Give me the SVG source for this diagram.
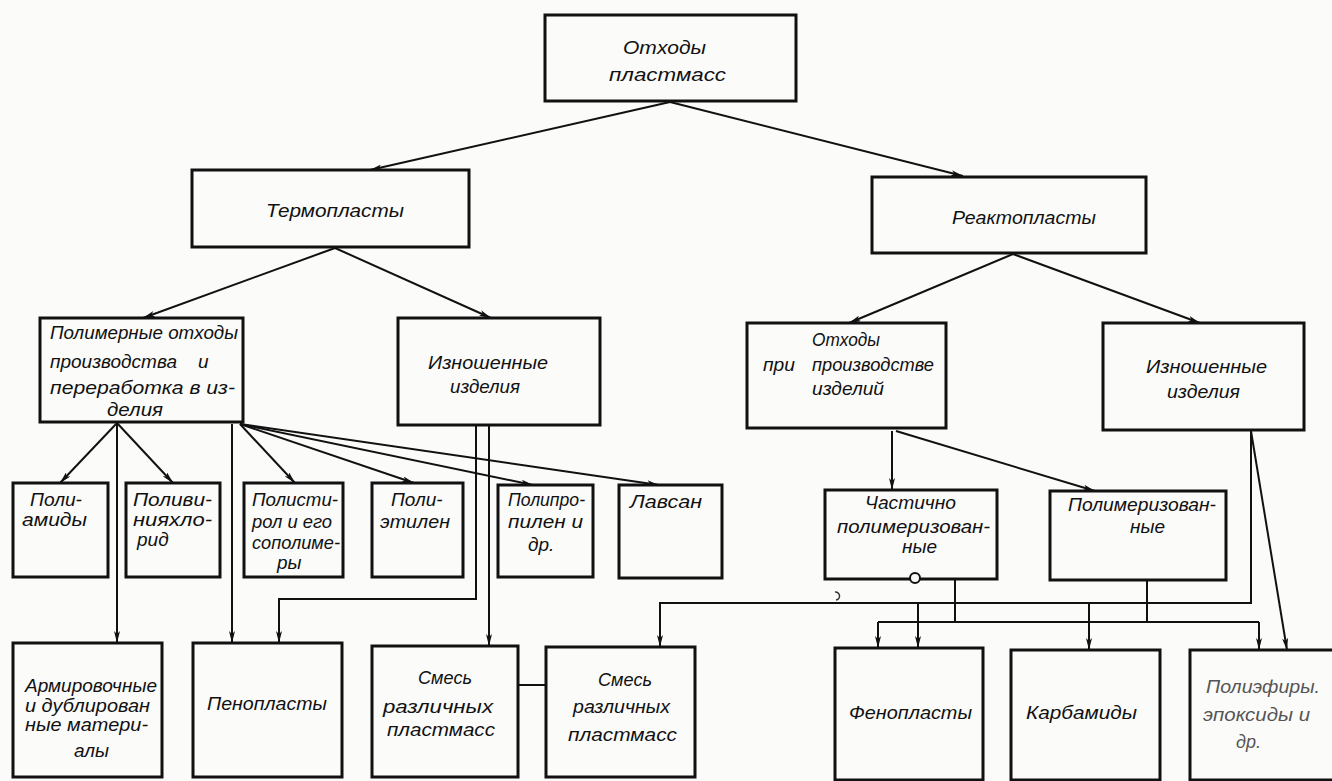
<svg xmlns="http://www.w3.org/2000/svg" width="1332" height="781" viewBox="0 0 1332 781">
<style>
.t{font-family:"Liberation Sans","DejaVu Sans",sans-serif;font-style:italic;font-size:19px;fill:#111}
.g{font-family:"Liberation Sans","DejaVu Sans",sans-serif;font-style:italic;font-size:18px;fill:#555}
.box{fill:none;stroke:#111;stroke-width:3}
.ln{fill:none;stroke:#111;stroke-width:2}
.ar{marker-end:url(#ah)}
</style>
<defs>
<marker id="ah" viewBox="0 0 12 6" refX="12" refY="3" markerWidth="12" markerHeight="6" markerUnits="userSpaceOnUse" orient="auto"><path d="M0,0 L12,3 L0,6 L3,3 z" fill="#111"/></marker>
</defs>
<rect width="1332" height="781" fill="#fbfbfa"/>

<g id="connectors">
<path class="ln ar" d="M670,102 L370,170"/>
<path class="ln ar" d="M670,102 L963,176"/>
<path class="ln ar" d="M335,248 L143,318"/>
<path class="ln ar" d="M335,248 L491,318"/>
<path class="ln ar" d="M1013,254 L849,323"/>
<path class="ln ar" d="M1013,254 L1200,323"/>
<path class="ln ar" d="M117,423 L60,483"/>
<path class="ln ar" d="M117,423 L173,483"/>
<path class="ln ar" d="M117,423 L117,643"/>
<path class="ln ar" d="M232,424 L232,643"/>
<path class="ln ar" d="M240,424 L295,483"/>
<path class="ln ar" d="M240,424 L414,483"/>
<path class="ln ar" d="M240,424 L533,485"/>
<path class="ln ar" d="M240,424 L659,485"/>
<path class="ln ar" d="M476,425 V599 H279 V643"/>
<path class="ln ar" d="M489,425 V646"/>
<path class="ln" d="M518,685 H546"/>
<path class="ln ar" d="M1251,431 V603 H660 V647"/>
<path class="ln ar" d="M1251,431 L1287,650"/>
<path class="ln ar" d="M892,431 V490"/>
<path class="ln ar" d="M896,431 L1095,491"/>
<path class="ln" d="M955,580 V622"/>
<path class="ln" d="M1147,581 V622"/>
<path class="ln" d="M878,622 H1259"/>
<path class="ln ar" d="M878,622 V648"/>
<path class="ln ar" d="M1259,622 V650"/>
<path class="ln ar" d="M918,603 V648"/>
<path class="ln ar" d="M1089,603 V650"/>
</g>

<g id="n-root"><rect class="box" x="545" y="15" width="251" height="86"/>
<text class="t" x="623" y="54" textLength="83" lengthAdjust="spacingAndGlyphs">Отходы</text>
<text class="t" x="609" y="81" textLength="117" lengthAdjust="spacingAndGlyphs">пластмасс</text></g>

<g id="n-thermo"><rect class="box" x="192" y="170" width="277" height="77"/>
<text class="t" x="266" y="217" textLength="138" lengthAdjust="spacingAndGlyphs">Термопласты</text></g>

<g id="n-reacto"><rect class="box" x="872" y="177" width="274" height="76"/>
<text class="t" x="952" y="224" textLength="144" lengthAdjust="spacingAndGlyphs">Реактопласты</text></g>

<g id="n-polywaste"><rect class="box" x="40" y="318" width="203" height="104"/>
<text class="t" x="50" y="339" textLength="188" lengthAdjust="spacingAndGlyphs">Полимерные отходы</text>
<text class="t" x="50" y="368" textLength="127" lengthAdjust="spacingAndGlyphs">производства</text>
<text class="t" x="198" y="368">и</text>
<text class="t" x="50" y="394" textLength="185" lengthAdjust="spacingAndGlyphs">переработка в из-</text>
<text class="t" x="107" y="416" textLength="56" lengthAdjust="spacingAndGlyphs">делия</text></g>

<g id="n-worn-left"><rect class="box" x="398" y="318" width="202" height="107"/>
<text class="t" x="428" y="369" textLength="120" lengthAdjust="spacingAndGlyphs">Изношенные</text>
<text class="t" x="450" y="393" textLength="70" lengthAdjust="spacingAndGlyphs">изделия</text></g>

<g id="n-prodwaste"><rect class="box" x="747" y="323" width="199" height="105"/>
<text class="t" x="812" y="346" textLength="68" lengthAdjust="spacingAndGlyphs">Отходы</text>
<text class="t" x="763" y="371" textLength="32" lengthAdjust="spacingAndGlyphs">при</text>
<text class="t" x="812" y="371" textLength="122" lengthAdjust="spacingAndGlyphs">производстве</text>
<text class="t" x="812" y="395" textLength="72" lengthAdjust="spacingAndGlyphs">изделий</text></g>

<g id="n-worn-right"><rect class="box" x="1103" y="323" width="201" height="107"/>
<text class="t" x="1146" y="373" textLength="121" lengthAdjust="spacingAndGlyphs">Изношенные</text>
<text class="t" x="1167" y="398" textLength="73" lengthAdjust="spacingAndGlyphs">изделия</text></g>

<g id="n-polyamide"><rect class="box" x="13" y="483" width="95" height="94"/>
<text class="t" x="30" y="506" textLength="52" lengthAdjust="spacingAndGlyphs">Поли-</text>
<text class="t" x="22" y="526" textLength="65" lengthAdjust="spacingAndGlyphs">амиды</text></g>

<g id="n-pvc"><rect class="box" x="126" y="483" width="94" height="94"/>
<text class="t" x="133" y="506" textLength="79" lengthAdjust="spacingAndGlyphs">Поливи-</text>
<text class="t" x="133" y="526" textLength="79" lengthAdjust="spacingAndGlyphs">нияхло-</text>
<text class="t" x="137" y="546">рид</text></g>

<g id="n-polystyrene"><rect class="box" x="244" y="483" width="99" height="94"/>
<text class="t" x="252" y="506" textLength="86" lengthAdjust="spacingAndGlyphs">Полисти-</text>
<text class="t" x="252" y="528" textLength="80" lengthAdjust="spacingAndGlyphs">рол и его</text>
<text class="t" x="252" y="549" textLength="88" lengthAdjust="spacingAndGlyphs">сополиме-</text>
<text class="t" x="277" y="569">ры</text></g>

<g id="n-polyethylene"><rect class="box" x="372" y="483" width="91" height="94"/>
<text class="t" x="391" y="506">Поли-</text>
<text class="t" x="380" y="528" textLength="70" lengthAdjust="spacingAndGlyphs">этилен</text></g>

<g id="n-polypropylene"><rect class="box" x="498" y="485" width="95" height="92"/>
<text class="t" x="508" y="506" textLength="77" lengthAdjust="spacingAndGlyphs">Полипро-</text>
<text class="t" x="508" y="528" textLength="75" lengthAdjust="spacingAndGlyphs">пилен и</text>
<text class="t" x="528" y="551">др.</text></g>

<g id="n-lavsan"><rect class="box" x="619" y="485" width="103" height="93"/>
<text class="t" x="630" y="508" textLength="72" lengthAdjust="spacingAndGlyphs">Лавсан</text></g>

<g id="n-partial"><rect class="box" x="825" y="490" width="172" height="89"/>
<text class="t" x="865" y="509" textLength="91" lengthAdjust="spacingAndGlyphs">Частично</text>
<text class="t" x="837" y="533" textLength="153" lengthAdjust="spacingAndGlyphs">полимеризован-</text>
<text class="t" x="902" y="553">ные</text>
<circle cx="915" cy="578" r="5" fill="#fbfbfa" stroke="#111" stroke-width="2"/></g>

<g id="n-polymerized"><rect class="box" x="1050" y="491" width="176" height="89"/>
<text class="t" x="1068" y="511" textLength="148" lengthAdjust="spacingAndGlyphs">Полимеризован-</text>
<text class="t" x="1130" y="533">ные</text></g>

<g id="n-armored"><rect class="box" x="13" y="643" width="149" height="134"/>
<text class="t" x="25" y="692" textLength="132" lengthAdjust="spacingAndGlyphs">Армировочные</text>
<text class="t" x="25" y="712" textLength="125" lengthAdjust="spacingAndGlyphs">и дублирован</text>
<text class="t" x="25" y="731" textLength="123" lengthAdjust="spacingAndGlyphs">ные матери-</text>
<text class="t" x="74" y="757">алы</text></g>

<g id="n-foam"><rect class="box" x="193" y="643" width="149" height="134"/>
<text class="t" x="207" y="710" textLength="120" lengthAdjust="spacingAndGlyphs">Пенопласты</text></g>

<g id="n-mix1"><rect class="box" x="372" y="646" width="146" height="131"/>
<text class="t" x="418" y="684" textLength="54" lengthAdjust="spacingAndGlyphs">Смесь</text>
<text class="t" x="383" y="713" textLength="110" lengthAdjust="spacingAndGlyphs">различных</text>
<text class="t" x="387" y="736" textLength="108" lengthAdjust="spacingAndGlyphs">пластмасс</text></g>

<g id="n-mix2"><rect class="box" x="546" y="647" width="149" height="130"/>
<text class="t" x="598" y="686" textLength="54" lengthAdjust="spacingAndGlyphs">Смесь</text>
<text class="t" x="573" y="713" textLength="97" lengthAdjust="spacingAndGlyphs">различных</text>
<text class="t" x="568" y="741" textLength="109" lengthAdjust="spacingAndGlyphs">пластмасс</text></g>

<g id="n-phenoplast"><rect class="box" x="835" y="648" width="148" height="132"/>
<text class="t" x="849" y="719" textLength="123" lengthAdjust="spacingAndGlyphs">Фенопласты</text></g>

<g id="n-carbamide"><rect class="box" x="1011" y="650" width="149" height="130"/>
<text class="t" x="1026" y="719" textLength="111" lengthAdjust="spacingAndGlyphs">Карбамиды</text></g>

<g id="n-polyester"><rect class="box" x="1190" y="650" width="150" height="130"/>
<text class="g" x="1206" y="693" textLength="114" lengthAdjust="spacingAndGlyphs">Полиэфиры.</text>
<text class="g" x="1203" y="721" textLength="107" lengthAdjust="spacingAndGlyphs">эпоксиды и</text>
<text class="g" x="1236" y="748">др.</text></g>

<path d="M835,592 A4,4 0 1 1 836,600" fill="none" stroke="#333" stroke-width="1.5"/>
</svg>
